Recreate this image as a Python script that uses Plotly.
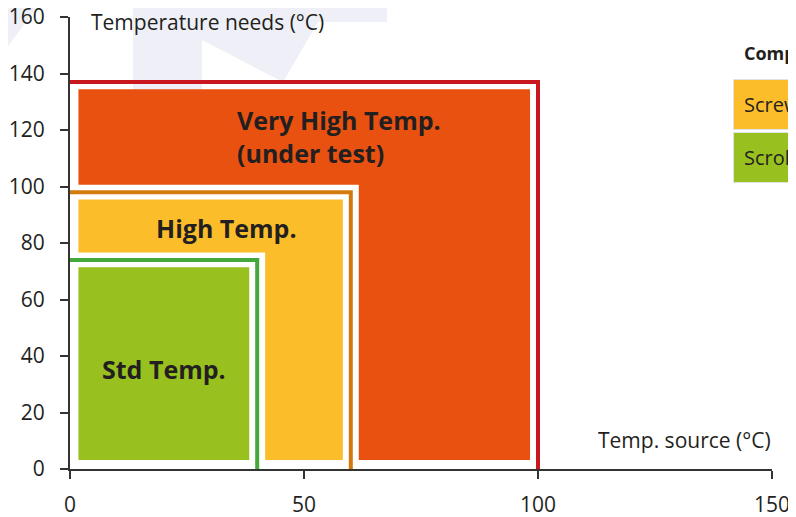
import plotly.graph_objects as go

# ---- data ----
zone_labels = ["Std Temp.", "High Temp.", "Very High Temp.<br>(under test)"]
source_max = [40, 60, 100]      # Temp. source (°C) upper limit per zone
needs_max = [74, 98, 137]       # Temperature needs (°C) upper limit per zone
x_ticks = [0, 50, 100, 150]
y_ticks = [0, 20, 40, 60, 80, 100, 120, 140, 160]
legend_title = "Compressor"
legend_items = ["Screw", "Scroll"]

# ---- styles ----
outline_colors = ["#45A83A", "#D27A0E", "#C8171E"]
fill_colors = ["#98C11F", "#FBBD2A", "#E85110"]
legend_colors = ["#FBBD2A", "#98C11F"]
TXT = "#231F20"
FONT = "Open Sans"
GX, GY = 1.7, 2.6          # white gap between outline and fill (data units)
BASE_X, BASE_Y = 1.8, 3.2  # fill inset from axes
label_pos = [(20.1, 35.4, "center"), (33.5, 85.3, "center"), (35.2, 117.8, "left")]

# page geometry: the page body has an 8px margin, so the figure is offset
OFF = 8
W, H = 796 - OFF, 517 - OFF
PL, PR, PT, PB = 70, 772, 17, 469           # plot area in page pixels
ML, MR, MT, MB = PL - OFF, W - (PR - OFF), PT - OFF, H - (PB - OFF)
PW, PH = PR - PL, PB - PT


def paper(px, py):
    """page pixel -> paper coordinates"""
    return (px - PL) / PW, (PB - py) / PH


fig = go.Figure()

# fills (L-shaped for outer zones)
for i, (xm, ym) in enumerate(zip(source_max, needs_max)):
    if i == 0:
        xs = [BASE_X, BASE_X, xm - GX, xm - GX, BASE_X]
        ys = [BASE_Y, ym - GY, ym - GY, BASE_Y, BASE_Y]
    else:
        xp, yp = source_max[i - 1], needs_max[i - 1]
        xs = [BASE_X, BASE_X, xm - GX, xm - GX, xp + GX, xp + GX, BASE_X]
        ys = [yp + GY, ym - GY, ym - GY, BASE_Y, BASE_Y, yp + GY, yp + GY]
    fig.add_trace(go.Scatter(x=xs, y=ys, mode="lines", fill="toself",
                             fillcolor=fill_colors[i], line=dict(width=0),
                             hoverinfo="skip", showlegend=False))

# outlines
for i, (xm, ym) in enumerate(zip(source_max, needs_max)):
    fig.add_trace(go.Scatter(x=[0, xm, xm], y=[ym, ym, 0], mode="lines",
                             line=dict(color=outline_colors[i], width=4),
                             hoverinfo="skip", showlegend=False))

# zone labels
for lab, (lx, ly, al) in zip(zone_labels, label_pos):
    fig.add_annotation(x=lx, y=ly, text="<b>" + lab + "</b>", showarrow=False,
                       xanchor="center" if al == "center" else "left",
                       align=al, font=dict(family=FONT, size=25, color=TXT))

# watermark (decorative)
wm = "#EEEFF7"
wm_polys = [
    [(0, 0), (42, 0), (0, 57)],
    [(133, 0), (202, 0), (202, 92), (133, 92)],
    [(202, 0), (387, 0), (387, 22), (318, 22), (283, 82), (202, 40)],
]
for poly in wm_polys:
    pts = [paper(px, py) for px, py in poly]
    path = "M " + " L ".join(f"{x:.4f},{y:.4f}" for x, y in pts) + " Z"
    fig.add_shape(type="path", path=path, xref="paper", yref="paper",
                  fillcolor=wm, line=dict(width=0), layer="below")

# axis titles
x0, y0 = paper(89, 22)
fig.add_annotation(x=x0, y=y0, xref="paper", yref="paper", xanchor="left",
                   yanchor="middle", text="Temperature needs (°C)", showarrow=False,
                   font=dict(family=FONT, size=21, color=TXT))
x0, y0 = paper(773, 440)
fig.add_annotation(x=x0, y=y0, xref="paper", yref="paper", xanchor="right",
                   yanchor="middle", text="Temp. source (°C)", showarrow=False,
                   font=dict(family=FONT, size=21, color=TXT))

# legend (drawn manually, cut by the page edge as in the reference)
x0, y0 = paper(742, 53)
fig.add_annotation(x=x0, y=y0, xref="paper", yref="paper", xanchor="left",
                   yanchor="middle", text="<b>" + legend_title + "</b>", showarrow=False,
                   font=dict(family=FONT, size=18, color=TXT))
box_tops = [79.5, 132.5]
for name, col, top in zip(legend_items, legend_colors, box_tops):
    bx0, by0 = paper(733.5, top)
    bx1, by1 = paper(830, top + 50)
    fig.add_shape(type="rect", xref="paper", yref="paper", x0=bx0, x1=bx1,
                  y0=by1, y1=by0, fillcolor=col, line=dict(color="#E2E2E2", width=1),
                  layer="above")
    tx, ty = paper(742, top + 25)
    fig.add_annotation(x=tx, y=ty, xref="paper", yref="paper", xanchor="left",
                       yanchor="middle", text=name, showarrow=False,
                       font=dict(family=FONT, size=20, color=TXT))

axis_common = dict(showline=True, linecolor="#333333", linewidth=2,
                   ticks="outside", ticklen=8, tickwidth=2, tickcolor="#333333",
                   showgrid=False, zeroline=False, automargin=False,
                   ticklabeloverflow="allow",
                   tickfont=dict(family=FONT, size=21, color=TXT))
fig.update_xaxes(range=[0, 150], tickvals=x_ticks, ticktext=[str(v) for v in x_ticks],
                 ticklabelstandoff=8, **axis_common)
fig.update_yaxes(range=[0, 160], tickvals=y_ticks, ticktext=[str(v) for v in y_ticks],
                 ticklabelstandoff=11, **axis_common)

fig.update_layout(width=W, height=H, autosize=False,
                  margin=dict(l=ML, r=MR, t=MT, b=MB, pad=0, autoexpand=False),
                  paper_bgcolor="white", plot_bgcolor="white",
                  showlegend=False, font=dict(family=FONT, color=TXT))

fig.write_html("out.html")
